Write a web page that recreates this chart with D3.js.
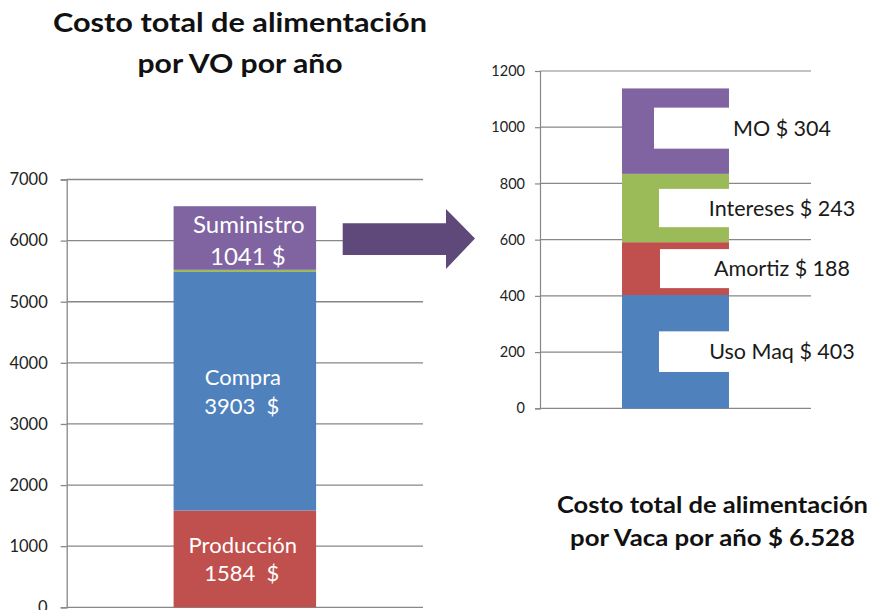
<!DOCTYPE html>
<html><head><meta charset="utf-8">
<script src="https://cdn.jsdelivr.net/npm/d3@7"></script>
<style>
body{margin:0;background:#fff;}
svg{display:block;font-family:Lato,"Open Sans",sans-serif;}
</style></head>
<body>
<svg id="c" width="872" height="610"></svg>
<script>
// ---- data ----
const leftCategories = ["Producción", "Compra", "Otros", "Suministro"];
const leftValues = [1584, 3903, 35, 1041];
const leftLabels = [["Producción", "1584  $"], ["Compra", "3903  $"], null, ["Suministro", "1041 $"]];
const leftTicks = [0, 1000, 2000, 3000, 4000, 5000, 6000, 7000];

const rightCategories = ["Uso Maq", "Amortiz", "Intereses", "MO"];
const rightValues = [403, 188, 243, 304];
const rightLabels = ["Uso Maq $ 403", "Amortiz $ 188", "Intereses $ 243", "MO $ 304"];
const rightTicks = [0, 200, 400, 600, 800, 1000, 1200];

const colors = ["#c0504d", "#4f81bd", "#9bbb59", "#8064a2"];
const rightColors = ["#4f81bd", "#c0504d", "#9bbb59", "#8064a2"];

const titleLeft = ["Costo total de alimentación", "por VO por año"];
const titleBottom = ["Costo total de alimentación", "por Vaca por año $ 6.528"];

const svg = d3.select("#c");
const gridColor = "#878787";

function stackData(cats, vals) {
  let acc = 0;
  return cats.map((c, i) => { const d = {cat: c, y0: acc, y1: acc + vals[i], i}; acc += vals[i]; return d; });
}

// ---- left chart ----
const yL = d3.scaleLinear().domain([0, 7000]).range([607.3, 179.5]);
const xL = d3.scaleBand().domain(["VO"]).range([66.7, 423]).paddingInner(0.4286).paddingOuter(0.4286);
const gL = svg.append("g");
gL.append("g").selectAll("line").data(leftTicks).join("line")
  .attr("x1", 66.7).attr("x2", 423).attr("y1", d => yL(d)).attr("y2", d => yL(d))
  .attr("stroke", gridColor).attr("stroke-width", 1.3);
const axL = gL.append("g").attr("transform", "translate(66.7,0)")
  .call(d3.axisLeft(yL).tickValues(leftTicks).tickSize(6).tickPadding(13).tickFormat(d3.format("d")));
axL.select(".domain").attr("stroke", gridColor).attr("stroke-width", 1.3);
axL.selectAll(".tick line").attr("stroke", gridColor).attr("stroke-width", 1.3);
axL.selectAll(".tick text").attr("font-size", 16.5).attr("fill", "#222").attr("font-family", "Lato");

const sL = stackData(leftCategories, leftValues);
gL.selectAll("rect.bar").data(sL).join("rect").attr("class", "bar")
  .attr("x", xL("VO")).attr("width", xL.bandwidth())
  .attr("y", d => yL(d.y1)).attr("height", d => yL(d.y0) - yL(d.y1))
  .attr("fill", d => colors[d.i]);
const cxL = xL("VO") + xL.bandwidth() / 2;
sL.forEach(d => {
  const lab = leftLabels[d.i];
  if (!lab) return;
  const cy = (yL(d.y0) + yL(d.y1)) / 2;
  const top = d.i === 3;
  const t = gL.append("text").attr("text-anchor", "middle").attr("fill", "#fff")
    .attr("font-size", top ? 24 : 22).style("white-space", "pre");
  t.append("tspan").attr("x", top ? cxL + 4 : cxL - 2).attr("y", top ? cy - 5 : cy - 6).text(lab[0]);
  t.append("tspan").attr("x", top ? cxL + 3 : cxL - 3).attr("y", top ? cy + 27 : cy + 22.5).text(lab[1]);
});

// title left
const tl = svg.append("text").attr("text-anchor", "middle").attr("font-weight", "bold")
  .attr("font-size", 27).attr("fill", "#111");
const tlW = [374, 205];
titleLeft.forEach((s, i) => tl.append("tspan").attr("x", 240).attr("y", 32 + i * 41)
  .attr("textLength", tlW[i]).attr("lengthAdjust", "spacingAndGlyphs").text(s));

// ---- arrow ----
svg.append("path")
  .attr("d", "M342.7,223.3 L446,223.3 L446,209 L475,238.5 L446,269 L446,255 L342.7,255 Z")
  .attr("fill", "#5f497a");

// ---- right chart ----
const yR = d3.scaleLinear().domain([0, 1200]).range([408.3, 71]);
const xR = d3.scaleBand().domain(["Vaca"]).range([540, 811]).paddingInner(0.434).paddingOuter(0.434);
const gR = svg.append("g");
gR.append("g").selectAll("line").data(rightTicks).join("line")
  .attr("x1", 540).attr("x2", 811).attr("y1", d => yR(d)).attr("y2", d => yR(d))
  .attr("stroke", gridColor).attr("stroke-width", 1.2);
const axR = gR.append("g").attr("transform", "translate(540,0)")
  .call(d3.axisLeft(yR).tickValues(rightTicks).tickSize(5).tickPadding(10).tickFormat(d3.format("d")));
axR.select(".domain").attr("stroke", gridColor).attr("stroke-width", 1.2);
axR.selectAll(".tick line").attr("stroke", gridColor).attr("stroke-width", 1.2);
axR.selectAll(".tick text").attr("font-size", 14.5).attr("fill", "#222").attr("font-family", "Lato");

const sR = stackData(rightCategories, rightValues);
gR.selectAll("rect.bar").data(sR).join("rect").attr("class", "bar")
  .attr("x", xR("Vaca")).attr("width", xR.bandwidth())
  .attr("y", d => yR(d.y1)).attr("height", d => yR(d.y0) - yR(d.y1))
  .attr("fill", d => rightColors[d.i]);
const boxLeft = [659, 660, 659, 654];
const boxH = [40.6, 39, 38.3, 41];
sR.forEach(d => {
  const cy = (yR(d.y0) + yR(d.y1)) / 2 + (d.i === 3 ? -3 : 0);
  gR.append("rect").attr("x", boxLeft[d.i]).attr("y", cy - boxH[d.i] / 2)
    .attr("width", 870 - boxLeft[d.i]).attr("height", boxH[d.i]).attr("fill", "#fff");
  gR.append("text").attr("x", 782).attr("y", cy + 7.5).attr("text-anchor", "middle")
    .attr("font-size", 21.5).attr("fill", "#1a1a1a").text(rightLabels[d.i]);
});

// bottom title
const tb = svg.append("text").attr("text-anchor", "middle").attr("font-weight", "bold")
  .attr("font-size", 23).attr("fill", "#111");
const tbW = [311, 285];
titleBottom.forEach((s, i) => tb.append("tspan").attr("x", 712.5).attr("y", 513 + i * 33)
  .attr("textLength", tbW[i]).attr("lengthAdjust", "spacingAndGlyphs").text(s));
</script>
</body></html>
